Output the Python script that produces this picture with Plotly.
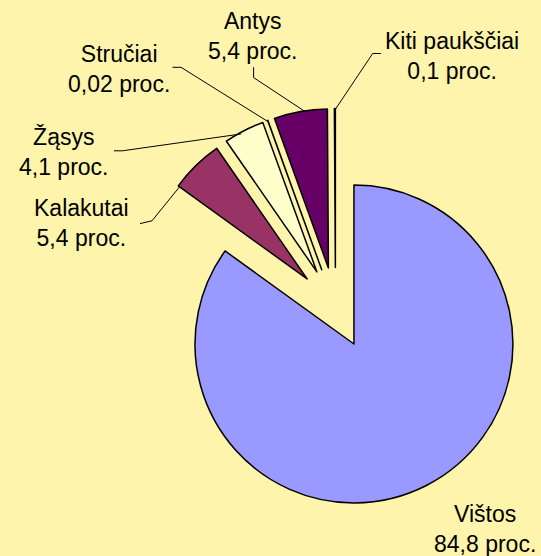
import math
import plotly.graph_objects as go

# ---- data ----
labels = ["Vištos", "Kalakutai", "Žąsys", "Stručiai", "Antys", "Kiti paukščiai"]
values = [84.8, 5.4, 4.1, 0.02, 5.4, 0.1]
value_text = ["84,8", "5,4", "4,1", "0,02", "5,4", "0,1"]
colors = ["#9999FF", "#993366", "#FFFFCC", "#CCFFFF", "#660066", "#FF8080"]

# ---- layout config ----
W, H = 541, 556
BG = "#FEF4AC"
PULL = 0.255
DOM_X = [0.2514, 0.9889]
DOM_Y = [0.0874, 0.8050]
FONT = dict(family="Liberation Sans, Arial, sans-serif", size=23, color="black")

# label block centres (pixels) and leader elbow points (pixels)
label_pos = [(485, 529), (81, 223), (64, 152), (119, 69), (253, 36), (452, 56)]
leader_elbows = [
    None,
    [(140, 223.6), (152, 220.8)],
    [(114, 150.8), (122.5, 150.8)],
    [(172.5, 67.3), (181, 67.3)],
    [(253.6, 67.3), (253.6, 77.6)],
    [(381, 53.5), (372.7, 53.5)],
]
attach_frac = [None, 0.0, 0.4, 0.5, 0.6, 0.5]

fig = go.Figure(go.Pie(
    labels=labels,
    values=values,
    sort=False,
    direction="clockwise",
    rotation=0,
    pull=[PULL] * len(values),
    marker=dict(colors=colors, line=dict(color="black", width=1.5)),
    textinfo="none",
    hoverinfo="label+percent",
    domain=dict(x=DOM_X, y=DOM_Y),
    showlegend=False,
))

# pie geometry (mirrors plotly's own scaling)
cx = W * (DOM_X[0] + DOM_X[1]) / 2
cy = H * (1 - (DOM_Y[0] + DOM_Y[1]) / 2)
r = min(W * (DOM_X[1] - DOM_X[0]), H * (DOM_Y[1] - DOM_Y[0])) / 2 / (1 + PULL)
total = sum(values)


def px(x):
    return x / W


def py(y):
    return 1 - y / H


annotations = []
shapes = []
cum = 0.0
for i, v in enumerate(values):
    a0 = cum / total * 2 * math.pi
    a1 = (cum + v) / total * 2 * math.pi
    cum += v
    mid = (a0 + a1) / 2
    apx = cx + PULL * r * math.sin(mid)
    apy = cy - PULL * r * math.cos(mid)
    lx, ly = label_pos[i]
    annotations.append(dict(
        x=px(lx), y=py(ly), xref="paper", yref="paper",
        text=f"{labels[i]}<br>{value_text[i]} proc.",
        showarrow=False, xanchor="center", yanchor="middle",
        font=FONT, align="center",
    ))
    if leader_elbows[i] is not None:
        ang = a0 + attach_frac[i] * (a1 - a0)
        tx = apx + 0.99 * r * math.sin(ang)
        ty = apy - 0.99 * r * math.cos(ang)
        pts = leader_elbows[i] + [(tx, ty)]
        for (x0, y0), (x1, y1) in zip(pts[:-1], pts[1:]):
            shapes.append(dict(
                type="line", xref="paper", yref="paper",
                x0=px(x0), y0=py(y0), x1=px(x1), y1=py(y1),
                line=dict(color="black", width=1),
            ))

fig.update_layout(
    width=W, height=H,
    margin=dict(l=0, r=0, t=0, b=0),
    paper_bgcolor=BG, plot_bgcolor=BG,
    annotations=annotations,
    shapes=shapes,
)

fig.write_html("out.html")
